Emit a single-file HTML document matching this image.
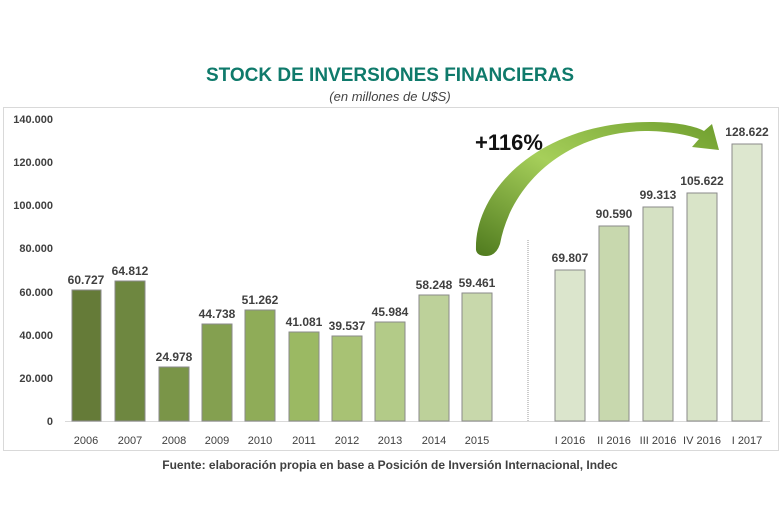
<!DOCTYPE html>
<html><head><meta charset="utf-8"><style>
body{margin:0;background:#fff;width:783px;height:522px;overflow:hidden;font-family:"Liberation Sans",sans-serif}
</style></head><body>
<svg width="783" height="522" xmlns="http://www.w3.org/2000/svg" font-family="Liberation Sans, sans-serif">
<defs>
<linearGradient id="ag" x1="0" y1="1" x2="1" y2="0">
<stop offset="0" stop-color="#4f7a1e"/><stop offset="0.5" stop-color="#a6cf5a"/><stop offset="1" stop-color="#6f9e2e"/>
</linearGradient>
</defs>
<text x="390" y="81" text-anchor="middle" font-size="19" font-weight="bold" fill="#0f7a6b">STOCK DE INVERSIONES FINANCIERAS</text>
<text x="390" y="101" text-anchor="middle" font-size="13" font-style="italic" fill="#444">(en millones de U$S)</text>
<rect x="3.5" y="107.5" width="775" height="343" fill="none" stroke="#d9d9d9"/>
<g font-size="11" font-weight="bold" fill="#404040" text-anchor="end">
<text x="53" y="123">140.000</text><text x="53" y="166">120.000</text><text x="53" y="209">100.000</text>
<text x="53" y="252">80.000</text><text x="53" y="296">60.000</text><text x="53" y="339">40.000</text>
<text x="53" y="382">20.000</text><text x="53" y="425">0</text>
</g>
<line x1="65" y1="421.5" x2="770" y2="421.5" stroke="#d9d9d9"/>
<line x1="528" y1="240" x2="528" y2="421" stroke="#999" stroke-dasharray="1,1"/>
<g stroke="#8a8a8a" stroke-width="1">
<rect x="72" y="290" width="29" height="131" fill="#657b38"/>
<rect x="115" y="281" width="30" height="140" fill="#6e8740"/>
<rect x="159" y="367" width="30" height="54" fill="#7a9548"/>
<rect x="202" y="324" width="30" height="97" fill="#84a050"/>
<rect x="245" y="310" width="30" height="111" fill="#8fac58"/>
<rect x="289" y="332" width="30" height="89" fill="#9bb963"/>
<rect x="332" y="336" width="30" height="85" fill="#a8c274"/>
<rect x="375" y="322" width="30" height="99" fill="#b3cb88"/>
<rect x="419" y="295" width="30" height="126" fill="#bdd19a"/>
<rect x="462" y="293" width="30" height="128" fill="#c8d8ab"/>
<rect x="555" y="270" width="30" height="151" fill="#dbe5cc"/>
<rect x="599" y="226" width="30" height="195" fill="#c8d8ae"/>
<rect x="643" y="207" width="30" height="214" fill="#d5e1c3"/>
<rect x="687" y="193" width="30" height="228" fill="#d9e4c8"/>
<rect x="732" y="144" width="30" height="277" fill="#dde7cf"/>
</g>
<g font-size="12" font-weight="bold" fill="#404040" text-anchor="middle">
<text x="86" y="284">60.727</text><text x="130" y="275">64.812</text><text x="174" y="361">24.978</text>
<text x="217" y="318">44.738</text><text x="260" y="304">51.262</text><text x="304" y="326">41.081</text>
<text x="347" y="330">39.537</text><text x="390" y="316">45.984</text><text x="434" y="289">58.248</text>
<text x="477" y="287">59.461</text><text x="570" y="262">69.807</text><text x="614" y="218">90.590</text>
<text x="658" y="199">99.313</text><text x="702" y="185">105.622</text><text x="747" y="136">128.622</text>
</g>
<g font-size="11" fill="#404040" text-anchor="middle">
<text x="86" y="444">2006</text><text x="130" y="444">2007</text><text x="174" y="444">2008</text>
<text x="217" y="444">2009</text><text x="260" y="444">2010</text><text x="304" y="444">2011</text>
<text x="347" y="444">2012</text><text x="390" y="444">2013</text><text x="434" y="444">2014</text>
<text x="477" y="444">2015</text><text x="570" y="444">I 2016</text><text x="614" y="444">II 2016</text>
<text x="658" y="444">III 2016</text><text x="702" y="444">IV 2016</text><text x="747" y="444">I 2017</text>
</g>
<text x="390" y="469" text-anchor="middle" font-size="12" font-weight="bold" fill="#404040">Fuente: elaboración propia en base a Posición de Inversión Internacional, Indec</text>
<text x="475" y="150" font-size="22" font-weight="bold" fill="#111">+116%</text>
<path d="M476,250 C474,190 540,122 650,122 C676,122 695,126 704,131 L712,124 L719,150 L692,147 L699,139 C685,134 665,131 645,131 C570,132 512,180 500,244 Q496,256 486,256 Q477,256 476,250 Z" fill="url(#ag)"/>
</svg>
</body></html>
